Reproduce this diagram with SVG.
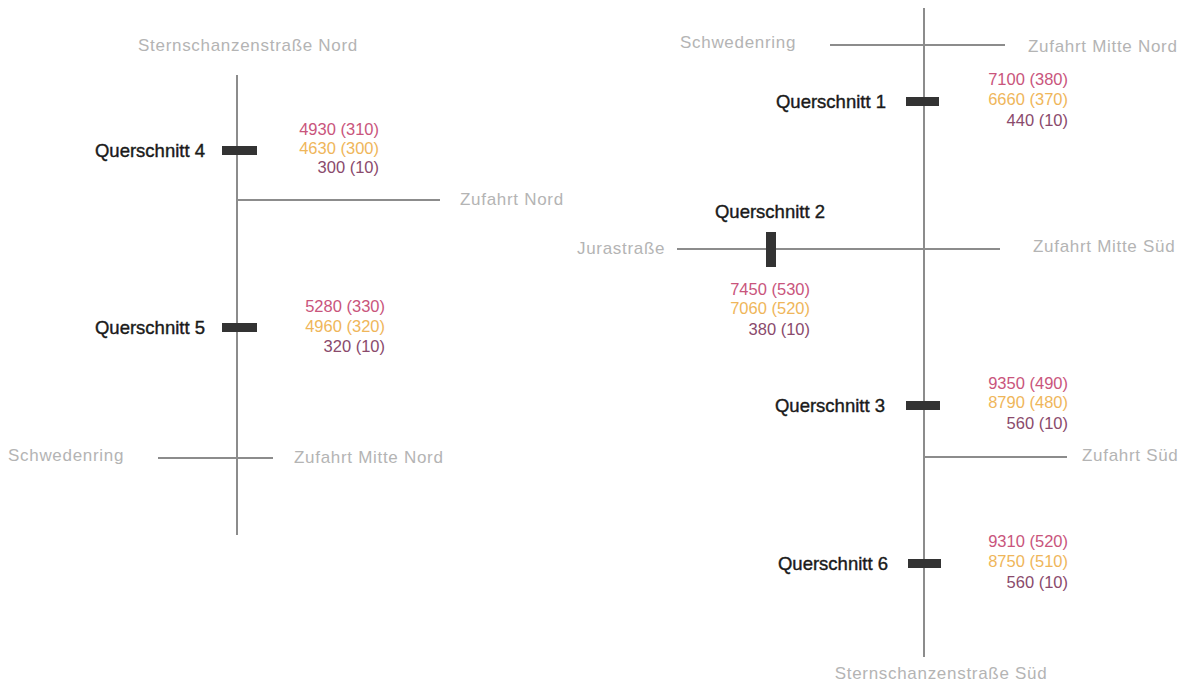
<svg xmlns="http://www.w3.org/2000/svg" width="1188" height="685" viewBox="0 0 1188 685">
<style>
.road{stroke:#8c8c8c;stroke-width:2;fill:none}
.bar{fill:#333}
.street{font-family:"Liberation Sans",Arial,sans-serif;font-size:17px;fill:#b4b4b4;letter-spacing:0.7px}
.qs{font-family:"Liberation Sans",Arial,sans-serif;font-size:18.5px;fill:#1a1a1a;stroke:#1a1a1a;stroke-width:0.4px;text-anchor:end}
.n{font-family:"Liberation Sans",Arial,sans-serif;font-size:16.5px;text-anchor:end}
.p{fill:#c9557c}
.o{fill:#efb65a}
.v{fill:#8a4a6c}
</style>
<rect width="1188" height="685" fill="#ffffff"/>
<g id="connectors">
<line class="road" x1="237" y1="75" x2="237" y2="535"/>
<line class="road" x1="237" y1="200" x2="440" y2="200"/>
<line class="road" x1="158" y1="458" x2="273" y2="458"/>
<line class="road" x1="924" y1="8" x2="924" y2="657"/>
<line class="road" x1="830" y1="45" x2="1005" y2="45"/>
<line class="road" x1="677" y1="249" x2="1000" y2="249"/>
<line class="road" x1="924" y1="457" x2="1067" y2="457"/>
</g>
<g id="street-labels">
<text class="street" x="248" y="51" text-anchor="middle">Sternschanzenstraße Nord</text>
<text class="street" x="460" y="205">Zufahrt Nord</text>
<text class="street" x="8" y="461">Schwedenring</text>
<text class="street" x="294" y="463">Zufahrt Mitte Nord</text>
<text class="street" x="680" y="48">Schwedenring</text>
<text class="street" x="1028" y="52">Zufahrt Mitte Nord</text>
<text class="street" x="577" y="254">Jurastraße</text>
<text class="street" x="1033" y="252">Zufahrt Mitte Süd</text>
<text class="street" x="1082" y="461">Zufahrt Süd</text>
<text class="street" x="941" y="679" text-anchor="middle">Sternschanzenstraße Süd</text>
</g>
<g id="querschnitt-4">
<rect class="bar" x="222" y="146" width="35" height="9"/>
<text class="qs" x="205" y="157">Querschnitt 4</text>
<text class="n p" x="379" y="135">4930 (310)</text>
<text class="n o" x="379" y="154">4630 (300)</text>
<text class="n v" x="379" y="173">300 (10)</text>
</g>
<g id="querschnitt-5">
<rect class="bar" x="222" y="323" width="35" height="9"/>
<text class="qs" x="205" y="334">Querschnitt 5</text>
<text class="n p" x="385" y="312">5280 (330)</text>
<text class="n o" x="385" y="332">4960 (320)</text>
<text class="n v" x="385" y="352">320 (10)</text>
</g>
<g id="querschnitt-1">
<rect class="bar" x="906" y="97" width="33" height="9"/>
<text class="qs" x="886" y="108">Querschnitt 1</text>
<text class="n p" x="1068" y="85">7100 (380)</text>
<text class="n o" x="1068" y="105">6660 (370)</text>
<text class="n v" x="1068" y="126">440 (10)</text>
</g>
<g id="querschnitt-2">
<rect class="bar" x="766" y="232" width="10" height="35"/>
<text class="qs" x="770" y="218" style="text-anchor:middle">Querschnitt 2</text>
<text class="n p" x="810" y="295">7450 (530)</text>
<text class="n o" x="810" y="314">7060 (520)</text>
<text class="n v" x="810" y="335">380 (10)</text>
</g>
<g id="querschnitt-3">
<rect class="bar" x="906" y="401" width="34" height="9"/>
<text class="qs" x="885" y="412">Querschnitt 3</text>
<text class="n p" x="1068" y="389">9350 (490)</text>
<text class="n o" x="1068" y="408">8790 (480)</text>
<text class="n v" x="1068" y="429">560 (10)</text>
</g>
<g id="querschnitt-6">
<rect class="bar" x="908" y="559" width="33" height="9"/>
<text class="qs" x="888" y="570">Querschnitt 6</text>
<text class="n p" x="1068" y="547">9310 (520)</text>
<text class="n o" x="1068" y="567">8750 (510)</text>
<text class="n v" x="1068" y="588">560 (10)</text>
</g>
</svg>
